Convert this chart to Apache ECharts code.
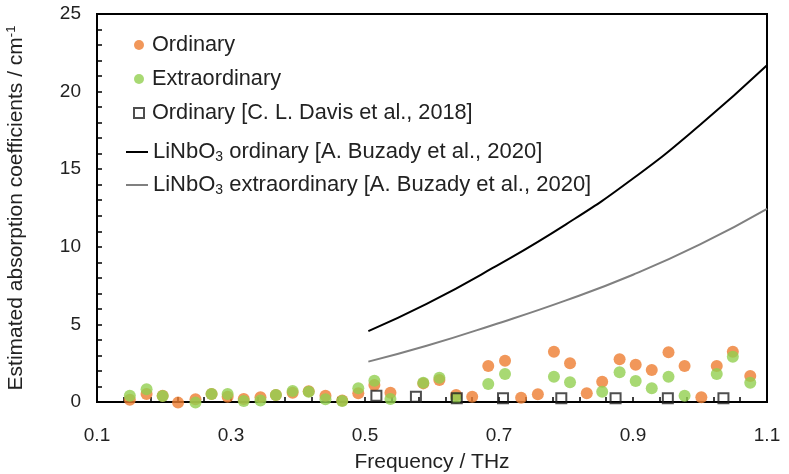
<!DOCTYPE html>
<html>
<head>
<meta charset="utf-8">
<script src="https://cdn.jsdelivr.net/npm/echarts@6/dist/echarts.min.js"></script>
<style>
  html, body { margin: 0; padding: 0; background: #fff; }
  #chart { width: 789px; height: 474px; }
</style>
</head>
<body>
<div id="chart"></div>
<script>
// measured points (this work)
const freqs = [0.149, 0.174, 0.198, 0.221, 0.247, 0.271, 0.295, 0.319, 0.344, 0.367,
  0.392, 0.416, 0.441, 0.466, 0.490, 0.514, 0.538, 0.587, 0.611, 0.636,
  0.660, 0.684, 0.709, 0.733, 0.758, 0.782, 0.806, 0.831, 0.854, 0.880,
  0.904, 0.928, 0.953, 0.977, 1.002, 1.025, 1.049, 1.075];
const ordinary = [0.15, 0.52, 0.4, -0.04, 0.17, 0.52, 0.34, 0.19, 0.3, 0.45,
  0.6, 0.7, 0.41, 0.1, 0.56, 1.1, 0.6, 1.2, 1.42, 0.45,
  0.34, 2.32, 2.66, 0.28, 0.5, 3.24, 2.49, 0.56, 1.31, 2.75,
  2.4, 2.06, 3.2, 2.32, 0.3, 2.32, 3.24, 1.68];
const extraordinary = [0.41, 0.82, 0.39, null, -0.04, 0.52, 0.52, 0.06, 0.09, 0.45,
  0.71, 0.66, 0.17, 0.06, 0.88, 1.37, 0.19, 1.24, 1.57, 0.25,
  null, 1.16, 1.8, null, null, 1.63, 1.27, null, 0.66, 1.91,
  1.35, 0.88, 1.63, 0.41, null, 1.8, 2.92, 1.24];

// C. L. Davis et al., 2018
const davisFreqs = [0.517, 0.576, 0.637, 0.706, 0.793, 0.874, 0.952, 1.035];
const davisOrdinary = [0.4, 0.34, 0.24, 0.24, 0.24, 0.24, 0.24, 0.24];

// A. Buzady et al., 2020
const buzadyFreqs = [0.505, 0.592, 0.69, 0.80, 0.90, 1.00, 1.10];
const buzadyOrdinary = [4.57, 6.32, 8.62, 11.45, 14.4, 17.85, 21.7];
const buzadyExtra = [2.6, 3.62, 4.95, 6.55, 8.2, 10.15, 12.45];

const xTicks = { min: 0.1, max: 1.1, step: 0.2 };
const yTicks = { min: 0, max: 25, step: 5 };

function pairs(xs, ys) {
  const out = [];
  xs.forEach((x, i) => {
    if (ys[i] !== null) out.push([x, ys[i]]);
  });
  return out;
}

const FONT = '"Liberation Sans", Arial, sans-serif';
const chart = echarts.init(document.getElementById('chart'));

const axisCommon = {
  axisLine: { show: true, lineStyle: { color: '#000', width: 2 } },
  axisTick: { show: true, inside: true, length: 5, lineStyle: { color: '#000', width: 1.5 } },
  minorTick: { show: true, splitNumber: 5, length: 5, lineStyle: { color: '#000', width: 1.5 } },
  splitLine: { show: false },
  axisLabel: { color: '#222', fontSize: 19, fontFamily: FONT }
};

const legendRich = {
  sub: { fontSize: 14, verticalAlign: 'bottom', padding: [10, 0, 0, 0], color: '#222', fontFamily: FONT }
};

chart.setOption({
  animation: false,
  grid: {
    left: 97, right: 22, top: 14, bottom: 72,
    outerBoundsMode: 'none', containLabel: false,
    show: true, borderColor: '#000', borderWidth: 2
  },
  xAxis: Object.assign({}, axisCommon, {
    type: 'value',
    min: xTicks.min, max: xTicks.max, interval: xTicks.step,
    name: 'Frequency / THz',
    nameLocation: 'middle',
    nameGap: 50,
    nameTextStyle: { color: '#222', fontSize: 21, fontFamily: FONT },
    axisLabel: Object.assign({}, axisCommon.axisLabel, { margin: 24 })
  }),
  yAxis: Object.assign({}, axisCommon, {
    type: 'value',
    min: yTicks.min, max: yTicks.max, interval: yTicks.step,
    name: 'Estimated absorption coefficients / cm{sup|-1}',
    nameLocation: 'middle',
    nameGap: 69,
    nameTextStyle: {
      color: '#222', fontSize: 21, fontFamily: FONT,
      rich: { sup: { fontSize: 13, verticalAlign: 'top', padding: [0, 0, 10, 0], color: '#222', fontFamily: FONT } }
    },
    axisLabel: Object.assign({}, axisCommon.axisLabel, { margin: 16 })
  }),
  legend: [
    {
      orient: 'vertical', left: 128, top: 29, itemGap: 12,
      itemWidth: 10, itemHeight: 10,
      data: ['Ordinary', 'Extraordinary', 'Ordinary [C. L. Davis et al., 2018]'],
      textStyle: { color: '#222', fontSize: 21.7, fontFamily: FONT, padding: [0, 0, 0, 3] },
      selectedMode: false
    },
    {
      orient: 'vertical', left: 121, top: 136, itemGap: 10,
      itemWidth: 22, itemHeight: 2, icon: 'rect',
      data: ['buzadyO', 'buzadyE'],
      formatter: function (name) {
        return name === 'buzadyO'
          ? 'LiNbO{sub|3} ordinary [A. Buzady et al., 2020]'
          : 'LiNbO{sub|3} extraordinary [A. Buzady et al., 2020]';
      },
      textStyle: { color: '#222', fontSize: 22, fontFamily: FONT, rich: legendRich },
      selectedMode: false
    }
  ],
  series: [
    {
      name: 'Ordinary', type: 'scatter', clip: false,
      symbol: 'circle', symbolSize: 12,
      itemStyle: { color: '#ED7D31' },
      data: pairs(freqs, ordinary)
    },
    {
      name: 'Extraordinary', type: 'scatter', clip: false,
      symbol: 'circle', symbolSize: 12,
      itemStyle: { color: '#92D050' },
      data: pairs(freqs, extraordinary)
    },
    {
      name: 'Ordinary [C. L. Davis et al., 2018]', type: 'scatter', clip: false,
      symbol: 'rect', symbolSize: 10,
      itemStyle: { color: 'rgba(255,255,255,0)', borderColor: '#222', borderWidth: 2 },
      data: pairs(davisFreqs, davisOrdinary)
    },
    {
      name: 'buzadyO', type: 'line', smooth: 0.5, symbol: 'none', showSymbol: false,
      lineStyle: { color: '#000', width: 2 }, itemStyle: { color: '#000' },
      data: pairs(buzadyFreqs, buzadyOrdinary)
    },
    {
      name: 'buzadyE', type: 'line', smooth: 0.5, symbol: 'none', showSymbol: false,
      lineStyle: { color: '#808080', width: 2 }, itemStyle: { color: '#808080' },
      data: pairs(buzadyFreqs, buzadyExtra)
    }
  ]
});
</script>
</body>
</html>
